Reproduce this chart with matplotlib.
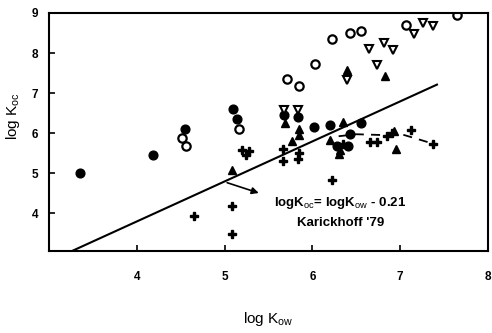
import matplotlib
matplotlib.use("Agg")
import matplotlib.pyplot as plt
import numpy as np

plt.rcParams['font.family'] = ['Liberation Sans', 'DejaVu Sans']
plt.rcParams['mathtext.fontset'] = 'custom'
plt.rcParams['mathtext.rm'] = 'Liberation Sans'
plt.rcParams['mathtext.bf'] = 'Liberation Sans:bold'

# data (log Kow, log Koc)
circ_filled_x = [3.35, 4.18, 4.55, 5.10, 5.14, 5.68, 5.84, 6.02, 6.20, 6.43, 6.55, 6.28, 6.41]
circ_filled_y = [5.00, 5.45, 6.11, 6.61, 6.36, 6.45, 6.40, 6.16, 6.20, 5.98, 6.26, 5.68, 5.68]

circ_open_x = [4.52, 4.56, 5.16, 5.71, 5.85, 6.03, 6.22, 6.43, 6.55, 7.07, 7.65]
circ_open_y = [5.88, 5.68, 6.10, 7.34, 7.17, 7.72, 8.34, 8.49, 8.55, 8.70, 8.95]

tri_open_x = [5.68, 5.84, 6.39, 6.65, 6.74, 6.82, 6.92, 7.16, 7.26, 7.37]
tri_open_y = [6.58, 6.58, 7.32, 8.10, 7.70, 8.25, 8.07, 8.47, 8.75, 8.67]

tri_filled_x = [5.09, 5.69, 5.85, 5.85, 5.77, 6.40, 6.83, 6.35, 6.20, 6.30, 6.32, 6.93, 6.95]
tri_filled_y = [5.08, 6.25, 6.10, 5.95, 5.80, 7.57, 7.42, 6.28, 5.82, 5.48, 5.58, 6.06, 5.60]

plus_x = [4.65, 5.09, 5.09, 5.20, 5.28, 5.25, 5.67, 5.67, 5.85, 5.84, 6.22,
          6.35, 6.66, 6.74, 6.85, 6.91, 7.12, 7.38]
plus_y = [3.92, 4.18, 3.47, 5.58, 5.55, 5.45, 5.60, 5.30, 5.50, 5.35, 4.82,
          5.73, 5.77, 5.77, 5.93, 6.00, 6.08, 5.73]

# Karickhoff '79 relation
kow_line = np.array([3.18, 7.42])
koc_line = kow_line - 0.21

# dashed trend through the plus points
trend_x = [6.30, 6.50, 6.80, 7.00, 7.20, 7.35]
trend_y = [5.92, 5.97, 5.95, 5.98, 5.85, 5.75]

fig = plt.figure(figsize=(4.92, 3.33), dpi=100)
ax = fig.add_axes([0.0996, 0.246, 0.892, 0.715])

ax.plot(kow_line, koc_line, color='black', lw=1.5)
ax.plot(trend_x, trend_y, color='black', lw=1.3, ls=(0, (5, 4)))

ax.plot(circ_filled_x, circ_filled_y, 'o', color='black', ms=6.3)
ax.plot(circ_open_x, circ_open_y, 'o', mfc='white', mec='black', mew=1.6, ms=6)
ax.plot(tri_open_x, tri_open_y, 'v', mfc='white', mec='black', mew=1.5, ms=5.8)
ax.plot(tri_filled_x, tri_filled_y, '^', color='black', ms=6)
ax.plot(plus_x, plus_y, 'P', color='black', ms=6.2)

ax.annotate('', xy=(5.42, 4.48), xytext=(5.0, 4.78),
            arrowprops=dict(arrowstyle='-|>', color='black', lw=1.2, mutation_scale=10))
ax.text(6.32, 4.24, r'logK$_{\mathrm{oc}}$= logK$_{\mathrm{ow}}$ - 0.21', ha='center', va='center',
        fontsize=9.5, fontweight='bold')
ax.text(6.32, 3.74, "Karickhoff '79", ha='center', va='center', fontsize=9.5, fontweight='bold')

ax.set_xlim(3.0, 8.0)
ax.set_ylim(3.05, 9.0)
ax.set_xticks([4, 5, 6, 7, 8])
ax.set_yticks([4, 5, 6, 7, 8, 9])
ax.tick_params(direction='in', length=4, width=1.2, labelsize=8.5)
ax.tick_params(axis='x', pad=14)
ax.tick_params(axis='y', pad=8)
for lbl in ax.get_xticklabels() + ax.get_yticklabels():
    lbl.set_fontweight('bold')
for sp in ax.spines.values():
    sp.set_linewidth(1.5)

ax.set_xlabel(r'log K$_{\mathrm{ow}}$', fontsize=11, labelpad=20)
ax.set_ylabel(r'log K$_{\mathrm{oc}}$', fontsize=11)
ax.yaxis.set_label_coords(-0.062, 0.567)

fig.savefig('out.png', dpi=100)
